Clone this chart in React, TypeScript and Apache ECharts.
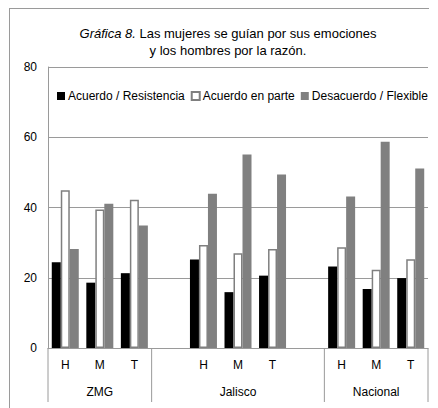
import React, { useEffect, useRef } from "react";
import * as echarts from "echarts";

const categories = ["H", "M", "T", " ", "H", "M", "T", "  ", "H", "M", "T"];
const groupLabels = ["", "ZMG", "", "", "", "Jalisco", "", "", "", "Nacional", ""];
const seriesNames = ["Acuerdo / Resistencia", "Acuerdo en parte", "Desacuerdo / Flexible"];
const acuerdoResistencia = [24.4, 18.6, 21.3, null, 25.2, 15.9, 20.6, null, 23.2, 16.8, 19.9];
const acuerdoEnParte = [44.9, 39.4, 42.2, null, 29.3, 27.0, 28.2, null, 28.7, 22.3, 25.3];
const desacuerdoFlexible = [28.2, 41.1, 34.9, null, 43.9, 55.1, 49.4, null, 43.1, 58.7, 51.1];
const yTicks = { min: 0, max: 80, interval: 20 };
const titleItalic = "Gráfica 8.";
const titleLine1 = "Las mujeres se guían por sus emociones";
const titleLine2 = "y los hombres por la razón.";
const groupBoundaries = [0, 3, 8, 11];

export default function App() {
  const ref = useRef<HTMLDivElement>(null);
  useEffect(() => {
    if (!ref.current) return;
    const chart = echarts.init(ref.current, null, { renderer: "svg" });
    const W = 438;
    const H = 408;
    const gLeft = 48;
    const gRight = 10;
    const gTop = 67;
    const gBottom = 60;
    const plotW = W - gLeft - gRight;
    const n = categories.length;
    const band = plotW / n;
    const axisY = H - gBottom;
    const font = "'Liberation Sans', Arial, sans-serif";
    const gray = "#9a9a9a";

    const sepLines = groupBoundaries.map((k) => ({
      type: "line",
      shape: { x1: gLeft + k * band, y1: axisY, x2: gLeft + k * band, y2: axisY + 54 },
      style: { stroke: gray, lineWidth: 1 },
      silent: true,
    }));

    chart.setOption({
      animation: false,
      textStyle: { fontFamily: font },
      title: {
        text: `{i|${titleItalic}} ${titleLine1}\n${titleLine2}`,
        left: 223,
        top: 20,
        textAlign: "center",
        textStyle: {
          fontFamily: font,
          fontSize: 13,
          fontWeight: "normal",
          color: "#000",
          lineHeight: 17,
          rich: {
            i: { fontStyle: "italic", fontSize: 13, fontFamily: font, color: "#000", lineHeight: 17 },
          },
        },
      },
      legend: {
        data: seriesNames,
        left: 52,
        top: 85,
        itemWidth: 8,
        itemHeight: 8,
        itemGap: 6,
        icon: "rect",
        textStyle: { fontFamily: font, fontSize: 12, color: "#000", padding: [0, 0, 0, -2] },
      },
      grid: { left: gLeft, right: gRight, top: gTop, bottom: gBottom, containLabel: false },
      xAxis: [
        {
          type: "category",
          data: categories,
          axisLine: { show: true, lineStyle: { color: gray } },
          axisTick: { show: false },
          axisLabel: { interval: 0, color: "#000", fontSize: 12, fontFamily: font, margin: 11 },
        },
        {
          type: "category",
          data: groupLabels,
          position: "bottom",
          offset: 27,
          axisLine: { show: false },
          axisTick: { show: false },
          axisLabel: { interval: 0, color: "#000", fontSize: 12, fontFamily: font, margin: 11 },
        },
      ],
      yAxis: {
        type: "value",
        min: yTicks.min,
        max: yTicks.max,
        interval: yTicks.interval,
        axisLine: { show: true, lineStyle: { color: gray } },
        axisTick: { show: false },
        splitLine: { show: true, lineStyle: { color: gray } },
        axisLabel: { color: "#000", fontSize: 12, fontFamily: font, margin: 11 },
      },
      series: [
        {
          name: seriesNames[0],
          type: "bar",
          data: acuerdoResistencia,
          barWidth: 9,
          barGap: "0%",
          itemStyle: { color: "#000" },
        },
        {
          name: seriesNames[1],
          type: "bar",
          data: acuerdoEnParte,
          barWidth: 9,
          barGap: "0%",
          itemStyle: { color: "#fff", borderColor: "#7f7f7f", borderWidth: 1.5 },
        },
        {
          name: seriesNames[2],
          type: "bar",
          data: desacuerdoFlexible,
          barWidth: 9,
          barGap: "0%",
          itemStyle: { color: "#808080" },
        },
      ],
      graphic: [
        {
          type: "line",
          shape: { x1: 9, y1: 8.5, x2: 429, y2: 8.5 },
          style: { stroke: gray, lineWidth: 1 },
          silent: true,
        },
        {
          type: "line",
          shape: { x1: 9.5, y1: 8, x2: 9.5, y2: 408 },
          style: { stroke: gray, lineWidth: 1 },
          silent: true,
        },
        ...sepLines,
      ],
    });
    return () => chart.dispose();
  }, []);
  return (
    <div
      ref={ref}
      style={{ position: "fixed", left: 0, top: 0, width: 438, height: 408, background: "#fff" }}
    />
  );
}
